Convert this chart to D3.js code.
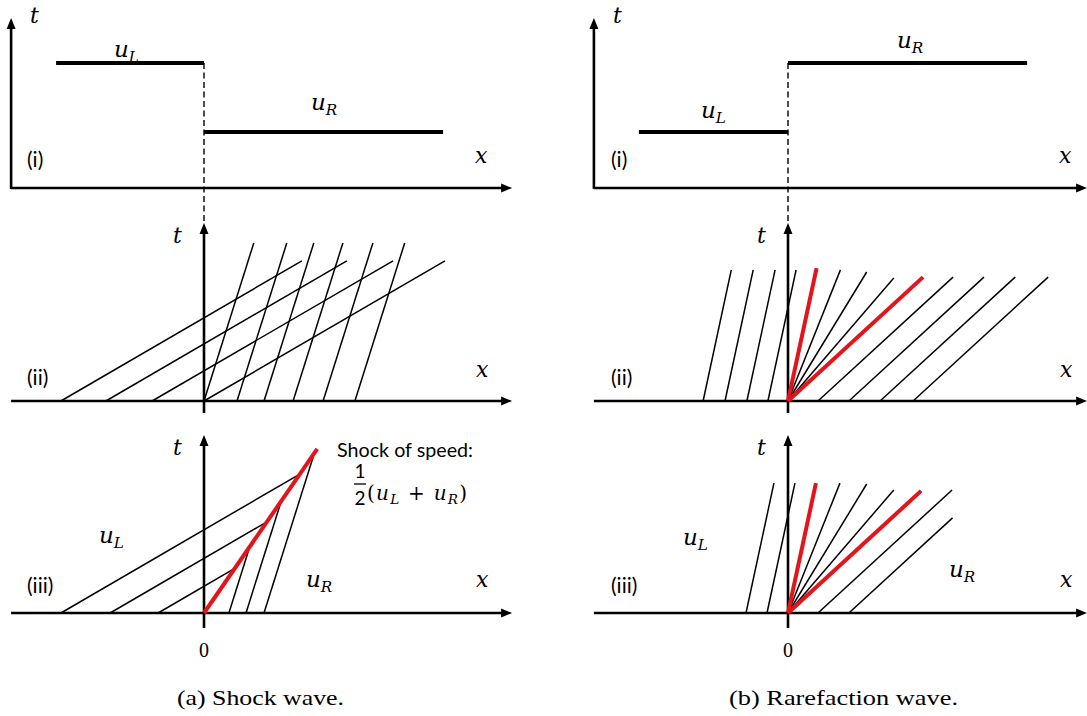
<!DOCTYPE html>
<html><head><meta charset="utf-8">
<script src="https://cdn.jsdelivr.net/npm/d3@7"></script>
<style>
html,body{margin:0;padding:0;background:#fff}
svg{display:block}
.math{font-family:"DejaVu Serif","Liberation Serif",serif;font-style:italic}
.sans{font-family:Lato,"Open Sans","Noto Sans",sans-serif}
.cm{font-family:"Liberation Serif","DejaVu Serif",serif}
</style></head>
<body>
<svg id="chart" width="1087" height="716"></svg>
<script>
// ---------------- DATA (in diagram units) ----------------
// (a) shock wave: initial profile u(x,0)
const shockStates = ["L", "R"];
const shockLevels = [4.17, 1.87];
const shockSpans  = [[-4.93, 0], [0, 7.97]];
// (b) rarefaction wave: initial profile
const rareStates = ["L", "R"];
const rareLevels = [1.87, 4.17];
const rareSpans  = [[-4.97, 0], [0, 7.97]];

// (a)(ii) crossing characteristics
const shockSpeedL = 1.72;
const shockSpeedR = 0.315;
const shockFeetL_ii = [-4.77, -3.27, -1.73, 0];
const shockTopL_ii = 4.67;
const shockFeetR_ii = [0, 1.1, 2.0, 2.97, 3.97, 5.03];
const shockTopR_ii = 5.27;
// (a)(iii) characteristics ending on the shock
const shockFeetL_iii = [-4.77, -3.13, -1.53];
const shockFeetR_iii = [0.83, 1.4, 2.0];
const shockFrontSpeed = 0.69;
const shockFrontTop = 5.47;

// (b) rarefaction
const rareSpeedL = 0.215;
const rareSpeedR = 1.09;
const fanSpeeds   = [0.215, 0.40, 0.61, 0.86, 1.09];
const fanRed      = [true, false, false, false, true];
const fanTops_ii  = [4.43, 4.37, 4.30, 4.10, 4.13];
const fanTops_iii = [4.33, 4.33, 4.30, 4.10, 4.07];
const rareFeetL_ii = [-2.83, -2.1, -1.37, -0.67];
const rareTopL_ii = 4.37;
const rareFeetR_ii = [1.0, 2.03, 3.07, 4.17];
const rareTopR_ii = 4.13;
const rareFeetL_iii = [-1.4, -0.7];
const rareTopL_iii = 4.33;
const rareFeetR_iii = [1.0, 2.03];
const rareTopsR_iii = [4.1, 3.17];

const rowLabels = ["(i)", "(ii)", "(iii)"];
const captions = ["(a) Shock wave.", "(b) Rarefaction wave."];
const originLabel = "0";
const shockNote = "Shock of speed:";

// ---------------- LAYOUT ----------------
const UNIT = 30;
const colOrigin = [204, 788];
const rowBase = [188, 401, 613];
const xExtent = [[-6.43, 10.27], [-6.47, 9.97]];
const tTop = 5.93;
const RED = "#e3141b";

const svg = d3.select("#chart");

function scales(col, row) {
  const x = d3.scaleLinear().domain([0, 1]).range([colOrigin[col], colOrigin[col] + UNIT]);
  const t = d3.scaleLinear().domain([0, 1]).range([rowBase[row], rowBase[row] - UNIT]);
  return {x, t};
}
function seg(g, s, p0, p1, color, width, dash) {
  const line = d3.line().x(d => s.x(d[0])).y(d => s.t(d[1]));
  const p = g.append("path").attr("d", line([p0, p1]))
    .attr("fill", "none").attr("stroke", color).attr("stroke-width", width)
    .attr("stroke-linecap", "butt");
  if (dash) p.attr("stroke-dasharray", dash);
  return p;
}
function arrowHead(g, px, py, dir) {
  const L = 11, W = 4.5;
  const pts = dir === "right"
    ? [[px, py], [px - L, py - W], [px - L, py + W]]
    : [[px, py], [px - W, py + L], [px + W, py + L]];
  g.append("path").attr("d", d3.line()(pts) + "Z").attr("fill", "#000");
}
function axisX(g, s, col) {
  const [a, b] = xExtent[col];
  seg(g, s, [a, 0], [b - 9 / UNIT, 0], "#000", 2.6);
  arrowHead(g, s.x(b), s.t(0), "right");
}
function axisT(g, s, xPos, tBottom) {
  seg(g, s, [xPos, tBottom], [xPos, tTop - 9 / UNIT], "#000", 2.6);
  arrowHead(g, s.x(xPos), s.t(tTop), "up");
}
function mathText(g, x, y, base, sub, size) {
  const tx = g.append("text").attr("class", "math").attr("x", x).attr("y", y)
    .attr("font-size", size).attr("fill", "#000");
  tx.append("tspan").text(base);
  if (sub) tx.append("tspan").attr("font-size", size * 0.66).attr("dy", size * 0.22).text(sub);
  return tx;
}
function sansText(g, x, y, str, size) {
  return g.append("text").attr("class", "sans").attr("x", x).attr("y", y)
    .attr("font-size", size).attr("fill", "#000").text(str);
}
function charLines(g, s, feet, speed, tops, color, width) {
  feet.forEach((f, i) => {
    const top = Array.isArray(tops) ? tops[i] : tops;
    seg(g, s, [f, 0], [f + speed * top, top], color, width);
  });
}

const profiles = [
  {states: shockStates, levels: shockLevels, spans: shockSpans},
  {states: rareStates, levels: rareLevels, spans: rareSpans}
];

[0, 1].forEach(col => {
  const g = svg.append("g");
  const ox = colOrigin[col];
  const s0 = scales(col, 0);
  const s1 = scales(col, 1);
  const s2 = scales(col, 2);
  const pr = profiles[col];
  const hi = d3.max(pr.levels);

  // dashed discontinuity line
  g.append("line").attr("x1", s0.x(0)).attr("x2", s0.x(0))
    .attr("y1", s0.t(hi)).attr("y2", s1.t(tTop))
    .attr("stroke", "#000").attr("stroke-width", 1.4).attr("stroke-dasharray", "6,3.5");

  // ----- row (i): initial data
  axisX(g, s0, col);
  {
    const xa = xExtent[col][0];
    seg(g, s0, [xa, -0.03], [xa, 5.67 - 9 / UNIT], "#000", 2.6);
    arrowHead(g, s0.x(xa), s0.t(5.67), "up");
  }
  pr.levels.forEach((lv, i) => {
    seg(g, s0, [pr.spans[i][0], lv], [pr.spans[i][1], lv], "#000", 4);
  });
  mathText(g, s0.x(xExtent[col][0]) + 19, 23, "t", null, 22);
  sansText(g, ox - 177, 167, rowLabels[0], 21);
  mathText(g, ox + 271, 163, "x", null, 22);

  // ----- row (ii)
  axisX(g, s1, col);
  axisT(g, s1, 0, -0.4);
  sansText(g, ox - 177, 385, rowLabels[1], 21);
  mathText(g, ox + 272, 377, "x", null, 22);
  mathText(g, ox - 31, 243, "t", null, 22);

  // ----- row (iii)
  axisX(g, s2, col);
  axisT(g, s2, 0, -0.5);
  sansText(g, ox - 177, 593, rowLabels[2], 21);
  mathText(g, ox + 272, 587, "x", null, 22);
  mathText(g, ox - 31, 455, "t", null, 22);

  // origin label
  g.append("text").attr("class", "cm").attr("x", ox).attr("y", 657)
    .attr("text-anchor", "middle").attr("font-size", 20).text(originLabel);

  if (col === 0) {
    mathText(g, 114, 57, "u", "L", 23);
    mathText(g, 311, 110, "u", "R", 23);
    // (ii)
    charLines(g, s1, shockFeetL_ii, shockSpeedL, shockTopL_ii, "#000", 1.5);
    charLines(g, s1, shockFeetR_ii, shockSpeedR, shockTopR_ii, "#000", 1.5);
    // (iii)
    const topsL = shockFeetL_iii.map(f => f / (shockFrontSpeed - shockSpeedL));
    const topsR = shockFeetR_iii.map(f => f / (shockFrontSpeed - shockSpeedR));
    charLines(g, s2, shockFeetL_iii, shockSpeedL, topsL, "#000", 1.5);
    charLines(g, s2, shockFeetR_iii, shockSpeedR, topsR, "#000", 1.5);
    seg(g, s2, [0, 0], [shockFrontSpeed * shockFrontTop, shockFrontTop], RED, 4);
    mathText(g, 99, 543, "u", "L", 23);
    mathText(g, 306, 587, "u", "R", 23);
    sansText(g, 337, 457, shockNote, 19.5).attr("textLength", 136).attr("lengthAdjust", "spacingAndGlyphs");
    sansText(g, 360, 478, "1", 19).attr("text-anchor", "middle");
    g.append("line").attr("x1", 354).attr("x2", 366).attr("y1", 484).attr("y2", 484)
      .attr("stroke", "#000").attr("stroke-width", 1.3);
    sansText(g, 360, 505, "2", 19).attr("text-anchor", "middle");
    const fr = g.append("text").attr("class", "math").attr("x", 367).attr("y", 500)
      .attr("font-size", 20).attr("fill", "#000")
      .attr("textLength", 100).attr("lengthAdjust", "spacing");
    fr.append("tspan").attr("font-style", "normal").text("(");
    fr.append("tspan").text("u");
    fr.append("tspan").attr("font-size", 13.5).attr("dy", 4).text("L");
    fr.append("tspan").attr("font-style", "normal").attr("dy", -4).text(" + ");
    fr.append("tspan").text("u");
    fr.append("tspan").attr("font-size", 13.5).attr("dy", 4).text("R");
    fr.append("tspan").attr("font-style", "normal").attr("dy", -4).text(")");
  } else {
    mathText(g, 897, 48, "u", "R", 23);
    mathText(g, 701, 118, "u", "L", 23);
    // (ii)
    charLines(g, s1, rareFeetL_ii, rareSpeedL, rareTopL_ii, "#000", 1.5);
    charLines(g, s1, rareFeetR_ii, rareSpeedR, rareTopR_ii, "#000", 1.5);
    fanSpeeds.forEach((sp, i) => {
      if (!fanRed[i]) seg(g, s1, [0, 0], [sp * fanTops_ii[i], fanTops_ii[i]], "#000", 1.5);
    });
    fanSpeeds.forEach((sp, i) => {
      if (fanRed[i]) seg(g, s1, [0, 0], [sp * fanTops_ii[i], fanTops_ii[i]], RED, 4);
    });
    // (iii)
    charLines(g, s2, rareFeetL_iii, rareSpeedL, rareTopL_iii, "#000", 1.5);
    charLines(g, s2, rareFeetR_iii, rareSpeedR, rareTopsR_iii, "#000", 1.5);
    fanSpeeds.forEach((sp, i) => {
      if (!fanRed[i]) seg(g, s2, [0, 0], [sp * fanTops_iii[i], fanTops_iii[i]], "#000", 1.5);
    });
    fanSpeeds.forEach((sp, i) => {
      if (fanRed[i]) seg(g, s2, [0, 0], [sp * fanTops_iii[i], fanTops_iii[i]], RED, 4);
    });
    mathText(g, 683, 545, "u", "L", 23);
    mathText(g, 949, 577, "u", "R", 23);
  }
});

// captions
const capX = [260.5, 843.5], capW = [167, 229];
captions.forEach((c, i) => {
  svg.append("text").attr("class", "cm").attr("x", capX[i]).attr("y", 705)
    .attr("text-anchor", "middle").attr("font-size", 21)
    .attr("textLength", capW[i]).attr("lengthAdjust", "spacingAndGlyphs").text(c);
});
</script>
</body></html>
